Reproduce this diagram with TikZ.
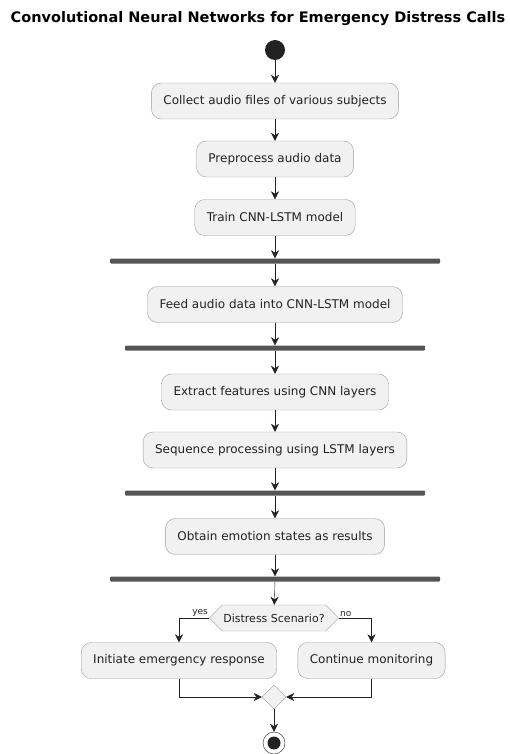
\documentclass[tikz,border=0pt]{standalone}
\usepackage{fontspec}
\setmainfont{DejaVu Sans}
\usetikzlibrary{arrows.meta,shapes.symbols,shapes.geometric}

\definecolor{boxfill}{HTML}{F1F1F1}
\definecolor{boxline}{HTML}{9A9A9A}
\definecolor{barfill}{HTML}{555555}
\definecolor{inkcol}{HTML}{222222}

\tikzstyle{activity}=[draw=boxline,fill=boxfill,rounded corners=10pt,minimum height=36pt,inner xsep=12pt,text=inkcol,font=\fontsize{12}{14}\selectfont]
\tikzstyle{forkbar}=[fill=barfill,rounded corners=1pt,inner sep=0pt,minimum height=5pt]
\tikzstyle{decision}=[draw=boxline,fill=boxfill,signal,signal to=west and east,minimum height=26pt,inner xsep=1pt,text=inkcol,font=\fontsize{11}{13}\selectfont]
\tikzstyle{merger}=[draw=boxline,fill=boxfill,diamond,minimum size=24pt,inner sep=0pt]
\tikzstyle{startdot}=[circle,fill=inkcol,minimum size=20pt,inner sep=0pt]
\tikzstyle{stopdot}=[circle,draw=inkcol,fill=white,minimum size=22pt,inner sep=0pt,path picture={\fill[inkcol] (path picture bounding box.center) circle (6.5pt);}]
\tikzstyle{flow}=[draw,color=inkcol,-{Stealth[length=8pt,width=8pt,inset=2.5pt]}]
\tikzstyle{guard}=[font=\fontsize{9}{10}\selectfont,text=inkcol,inner sep=1pt]
\newcommand{\pxunit}{1pt}

\begin{document}
\begin{tikzpicture}[x=\pxunit, y=-\pxunit]
    \useasboundingbox (0,0) rectangle (509,754);
    \node[font=\fontsize{14.5}{17}\selectfont\bfseries, text=black] (title) at (258,19) {Convolutional Neural Networks for Emergency Distress Calls};

    % First we draw the activities
    \node[startdot] (start) at (275,50) {};
    \foreach \pos/\name/\txt in {{(275,101)/collect/Collect audio files of various subjects},
        {(275,159)/preprocess/Preprocess audio data}, {(275,217.5)/train/Train CNN-LSTM model},
        {(275,304.5)/feed/Feed audio data into CNN-LSTM model}, {(275,392)/extract/Extract features using CNN layers},
        {(275,450)/sequence/Sequence processing using LSTM layers}, {(275,536.5)/obtain/Obtain emotion states as results},
        {(179,660.5)/respond/Initiate emergency response}, {(371.5,660.5)/monitor/Continue monitoring}}
        \node[activity] (\name) at \pos {\txt};
    % then the fork bars
    \foreach \pos/\name/\len in {{(275,261)/barA/330pt}, {(275,348)/barB/300pt}, {(275,493)/barC/300pt}, {(275,579)/barD/330pt}}
        \node[forkbar, minimum width=\len] (\name) at \pos {};
    \node[decision] (distress) at (274,618) {Distress Scenario?};
    \node[merger] (merge) at (274,697) {};
    \node[stopdot] (stop) at (274,743) {};

    % Connect everything with arrows
    \foreach \source/\dest in {start/collect, collect/preprocess, preprocess/train, train/barA, barA/feed,
        feed/barB, barB/extract, extract/sequence, sequence/barC, barC/obtain, obtain/barD, barD/distress, merge/stop}
        \path[flow] (\source) -- (\dest);

    \path[flow] (distress.west) -| node[guard, pos=0, above left] {yes} (respond.north);
    \path[flow] (distress.east) -| node[guard, pos=0, above right] {no} (monitor.north);
    \path[flow] (respond.south) |- (merge.west);
    \path[flow] (monitor.south) |- (merge.east);
\end{tikzpicture}
\end{document}
